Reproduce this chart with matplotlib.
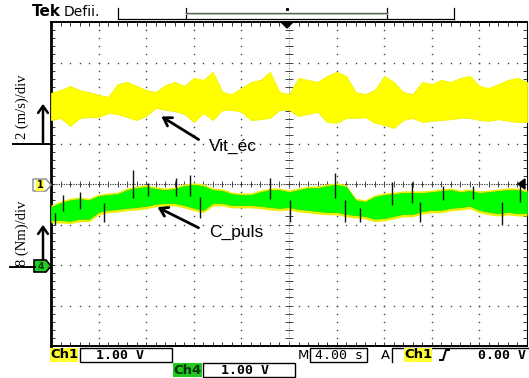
import numpy as np
import matplotlib
matplotlib.use("Agg")
import matplotlib.pyplot as plt
from matplotlib.patches import Rectangle, Polygon

# ---------------- data (screen divisions) ----------------
t_env = np.linspace(0, 10, 51)  # sample instants, 0.2 div apart

vit_hi = [2.25, 2.32, 2.42, 2.32, 2.27, 2.20, 2.15, 2.47, 2.52, 2.42, 2.32, 2.27, 2.44,
          2.52, 2.42, 2.62, 2.57, 2.77, 2.27, 2.22, 2.37, 2.52, 2.57, 2.77, 2.27, 2.22,
          2.62, 2.57, 2.52, 2.67, 2.77, 2.67, 2.27, 2.22, 2.32, 2.67, 2.52, 2.27, 2.22,
          2.52, 2.47, 2.57, 2.52, 2.62, 2.67, 2.42, 2.37, 2.47, 2.57, 2.62, 2.52]
vit_lo = [1.58, 1.63, 1.43, 1.63, 1.65, 1.65, 1.75, 1.73, 1.65, 1.58, 1.68, 1.88, 1.83,
          1.80, 1.73, 1.53, 1.75, 1.58, 1.83, 1.83, 1.78, 1.58, 1.60, 1.63, 1.83, 1.83,
          1.68, 1.73, 1.78, 1.53, 1.51, 1.63, 1.63, 1.65, 1.51, 1.46, 1.38, 1.58, 1.63,
          1.53, 1.56, 1.58, 1.60, 1.63, 1.63, 1.58, 1.56, 1.60, 1.56, 1.53, 1.53]

cp_hi = [-0.57, -0.47, -0.40, -0.37, -0.40, -0.30, -0.27, -0.25, -0.15, -0.10, -0.07,
         -0.12, -0.15, -0.12, -0.05, -0.02, -0.05, -0.15, -0.17, -0.25, -0.27, -0.27,
         -0.20, -0.15, -0.15, -0.20, -0.15, -0.10, -0.10, -0.05, -0.02, -0.07, -0.40,
         -0.44, -0.32, -0.27, -0.25, -0.22, -0.22, -0.22, -0.20, -0.17, -0.15, -0.20,
         -0.17, -0.22, -0.20, -0.17, -0.15, -0.15, -0.20]
cp_lo = [-0.89, -0.89, -0.91, -0.86, -0.86, -0.69, -0.64, -0.62, -0.59, -0.57, -0.54,
         -0.49, -0.47, -0.47, -0.52, -0.59, -0.64, -0.47, -0.47, -0.52, -0.52, -0.52,
         -0.54, -0.57, -0.59, -0.57, -0.62, -0.64, -0.67, -0.69, -0.69, -0.74, -0.77,
         -0.79, -0.86, -0.84, -0.79, -0.74, -0.74, -0.67, -0.64, -0.64, -0.59, -0.57,
         -0.54, -0.64, -0.69, -0.72, -0.69, -0.72, -0.72]

spike_t = [0.08, 0.25, 0.61, 1.11, 1.72, 2.04, 2.63, 2.92, 3.13, 4.60, 5.02, 5.97,
           6.18, 6.49, 7.16, 7.58, 7.75, 8.24, 8.87, 9.47, 9.85]
spike_v = [-1.01, -0.27, -0.20, -0.94, 0.35, 0.02, 0.15, 0.22, -0.84, 0.15, -0.94,
           0.27, -0.94, -0.94, 0.05, 0.05, -0.94, -0.05, -0.05, -1.01, 0.02]

ch1_scale = "1.00 V"
ch4_scale = "1.00 V"
time_scale = "4.00 s"
trig_level = "0.00 V"

# ---------------- figure ----------------
W, H = 529, 378
fig = plt.figure(figsize=(W / 100, H / 100), dpi=100)
fig.patch.set_facecolor("white")

L, R, T, B = 51, 527, 22, 346
ax = fig.add_axes([L / W, 1 - B / H, (R - L) / W, (B - T) / H])
ax.set_xlim(0, 10)
ax.set_ylim(-4, 4)

# grid dots
gx = np.arange(0, 10.001, 0.2)
gy = np.arange(-4, 4.001, 0.2)
for xv in range(1, 10):
    if xv != 5:
        ax.plot(np.full_like(gy, xv), gy, ls="none", marker="s", ms=1.0,
                color="#444444", mew=0, zorder=1)
for yv in range(-3, 4):
    if yv != 0:
        ax.plot(gx, np.full_like(gx, yv), ls="none", marker="s", ms=1.0,
                color="#444444", mew=0, zorder=1)
# centre crosshair
ax.axvline(5, color="#444444", lw=0.6, ls=(0, (1, 2)), zorder=1)
ax.axhline(0, color="#222222", lw=0.8, ls=(0, (1, 1.2)), zorder=1)
ax.vlines(gx, -0.08, 0.08, color="#444444", lw=0.7, zorder=1)
ax.hlines(gy, 4.92, 5.08, color="#444444", lw=0.7, zorder=1)

# traces
ax.fill_between(t_env, vit_lo, vit_hi, color="#FFFF00", lw=0.6,
                edgecolor="#F2F200", zorder=3)
cp_hi_a = np.array(cp_hi)
cp_lo_a = np.array(cp_lo)
ax.fill_between(t_env, cp_lo_a - 0.07, cp_hi_a + 0.05, color="#E8F000", lw=0, zorder=3)
ax.fill_between(t_env, cp_lo, cp_hi, color="#00FF00", lw=0.5,
                edgecolor="#10E010", zorder=4)
cp_mid = (cp_hi_a + cp_lo_a) / 2
ax.vlines(spike_t, np.interp(spike_t, t_env, cp_mid), spike_v,
          color="#111111", lw=1.0, zorder=5)

# ticks along borders
ax.set_xticks([])
ax.set_yticks([])
ax.set_xticks(gx, minor=True)
ax.set_yticks(gy, minor=True)
ax.tick_params(which="minor", direction="in", length=3, width=0.7, color="#333333",
               top=True, right=True, bottom=True, left=True,
               labelbottom=False, labelleft=False)
for s, lw in (("left", 2.0), ("top", 1.4), ("bottom", 1.4), ("right", 0.8)):
    ax.spines[s].set_linewidth(lw)
    ax.spines[s].set_color("black")

# ---------------- overlay in pixel coordinates ----------------
ov = fig.add_axes([0, 0, 1, 1], zorder=10)
ov.set_xlim(0, W)
ov.set_ylim(H, 0)
ov.axis("off")
ov.patch.set_alpha(0)

# header
ov.text(32, 12, "Tek", fontsize=11, fontweight="bold", va="center", ha="left",
        family="DejaVu Sans")
ov.text(64, 12.5, "Defii.", fontsize=10, va="center", ha="left", family="DejaVu Sans")
ov.plot([118, 454], [19, 19], color="black", lw=0.9)
for xv in (118, 186, 387, 454):
    ov.plot([xv, xv], [8, 19], color="black", lw=0.9)
ov.plot([186, 387], [13, 13], color="#556655", lw=1.0)
ov.plot([186, 387], [14.2, 14.2], color="#AABB99", lw=0.6)
ov.plot([287], [9], marker="s", ms=1.2, color="black")
ov.add_patch(Polygon([[281, 22], [293, 22], [287, 28]], closed=True, color="black"))
ov.add_patch(Polygon([[525, 179], [525, 189], [518, 184]], closed=True, color="black"))

# left annotations
ov.plot([13, 51], [144, 144], color="black", lw=1.4)
ov.annotate("", xy=(43, 101), xytext=(43, 145),
            arrowprops=dict(arrowstyle="->,head_length=0.5,head_width=0.35",
                            lw=1.8, color="black"))
ov.text(22, 107, "2 (m/s)/div", rotation=90, fontsize=10.5, va="center", ha="center",
        family="Liberation Serif")
ov.plot([10, 35], [267, 267], color="black", lw=1.4)
ov.annotate("", xy=(43, 222), xytext=(43, 262),
            arrowprops=dict(arrowstyle="->,head_length=0.5,head_width=0.35",
                            lw=1.8, color="black"))
ov.text(22, 233, "8 (Nm)/div", rotation=90, fontsize=10.5, va="center", ha="center",
        family="Liberation Serif")

# channel markers
ov.add_patch(Polygon([[33, 179], [46, 179], [51, 185], [46, 191], [33, 191]],
                     closed=True, facecolor="white", edgecolor="#888888", lw=1))
ov.text(40, 185.5, "1", fontsize=7, fontweight="bold", ha="center", va="center",
        bbox=dict(facecolor="#FFFF40", edgecolor="none", pad=0.3))
ov.add_patch(Polygon([[34, 260], [46, 260], [51, 266], [46, 272], [34, 272]],
                     closed=True, facecolor="#22CC22", edgecolor="black", lw=1.2))
ov.text(41, 266.5, "4", fontsize=6.5, fontweight="bold", ha="center", va="center",
        color="#0A3A0A")

# trace labels
ov.text(233, 146, "Vit_éc", fontsize=12.5, ha="center", va="center",
        family="Liberation Sans")
ov.annotate("", xy=(159, 115), xytext=(201, 141),
            arrowprops=dict(arrowstyle="->,head_length=0.55,head_width=0.35",
                            lw=2.0, color="black"))
ov.text(236, 232, "C_puls", fontsize=12.5, ha="center", va="center",
        family="Liberation Sans")
ov.annotate("", xy=(155, 206), xytext=(201, 229),
            arrowprops=dict(arrowstyle="->,head_length=0.55,head_width=0.35",
                            lw=2.0, color="black"))

# status bar
mono = "DejaVu Sans Mono"
ov.text(50, 355, "Ch1", fontsize=9.5, fontweight="bold", ha="left", va="center",
        bbox=dict(facecolor="#FFFF30", edgecolor="none", pad=0.2))
ov.add_patch(Rectangle((80, 348), 92, 14, facecolor="white", edgecolor="black", lw=1))
ov.text(120, 355.5, ch1_scale, fontsize=9.5, fontweight="bold", ha="center",
        va="center", family=mono)
ov.text(303, 355.5, "M", fontsize=9.5, ha="center", va="center")
ov.add_patch(Rectangle((310, 348), 57, 14, facecolor="white", edgecolor="black", lw=1))
ov.text(339, 355.5, time_scale, fontsize=9.5, ha="center", va="center", family=mono)
ov.text(385, 355.5, "A", fontsize=9.5, ha="center", va="center")
ov.plot([392, 392, 529], [362, 348, 348], color="black", lw=1)
ov.text(404, 355, "Ch1", fontsize=9.5, fontweight="bold", ha="left", va="center",
        bbox=dict(facecolor="#FFFF30", edgecolor="none", pad=0.2))
ov.plot([440, 443, 446, 449], [360, 360, 350, 350], color="black", lw=1.4)
ov.text(526, 355.5, trig_level, fontsize=9.5, fontweight="bold", ha="right",
        va="center", family=mono)
ov.add_patch(Rectangle((173, 363), 29, 14, facecolor="#1FC81F", edgecolor="none"))
ov.text(187.5, 370, "Ch4", fontsize=9.5, fontweight="bold", ha="center", va="center",
        color="#063306")
ov.add_patch(Rectangle((203, 363), 92, 14, facecolor="white", edgecolor="black", lw=1))
ov.text(245, 370.5, ch4_scale, fontsize=9.5, fontweight="bold", ha="center",
        va="center", family=mono)

fig.savefig("out.png", dpi=100, facecolor="white")
